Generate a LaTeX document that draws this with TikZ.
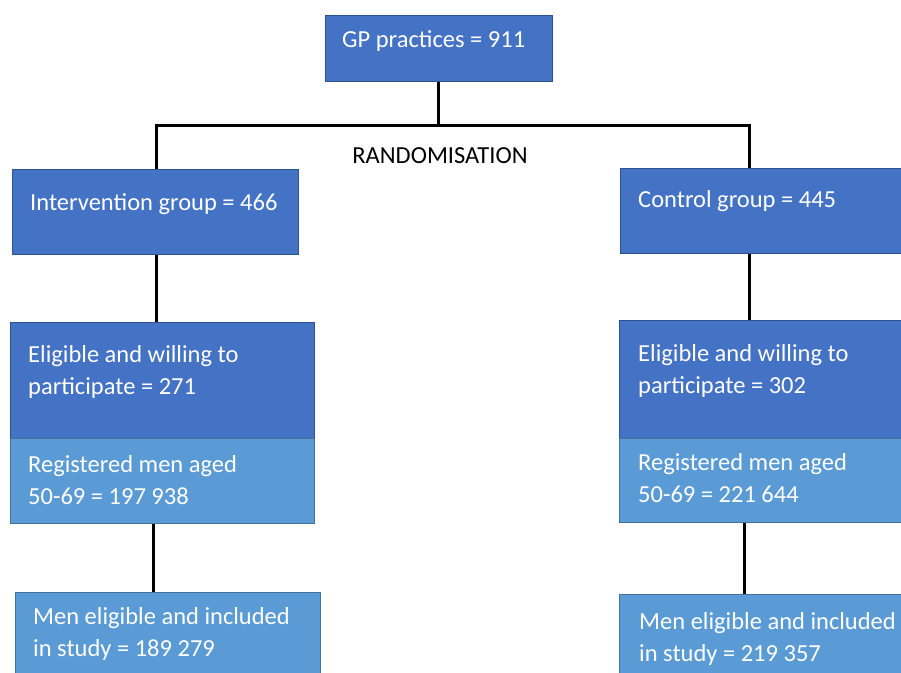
\documentclass[tikz,border=0pt]{standalone}
\usepackage{fontspec}
\setmainfont{Carlito}
\definecolor{darkbox}{HTML}{4472C4}
\definecolor{lightbox}{HTML}{5B9BD5}
\definecolor{darkline}{HTML}{2F528F}
\definecolor{lightline}{HTML}{41719C}
\tikzset{
  dbox/.style={draw=darkline, fill=darkbox, line width=1.2pt, anchor=north west, inner sep=0pt},
  lbox/.style={draw=lightline, fill=lightbox, line width=1.2pt, anchor=north west, inner sep=0pt},
  wtext/.style={text=white, anchor=base west, inner sep=0pt, align=left, font=\fontsize{24.5}{32}\selectfont},
  conn/.style={draw=black, line width=3pt},
}
\begin{document}
\begin{tikzpicture}[x=1pt, y=-1pt]
\useasboundingbox (0,0) rectangle (901,672);
\clip (0,0) rectangle (901,672);
\fill[white] (0,0) rectangle (901,672);
% boxes
\node[dbox, minimum width=227pt, minimum height=66pt] (gp) at (325,15) {};
\node[dbox, minimum width=286pt, minimum height=85pt] (int) at (12,169) {};
\node[dbox, minimum width=300pt, minimum height=85pt] (ctl) at (620,168) {};
\node[dbox, minimum width=304pt, minimum height=116pt] (el1) at (10,322) {};
\node[lbox, minimum width=304pt, minimum height=85pt] (rg1) at (10,438) {};
\node[lbox, minimum width=305pt, minimum height=100pt] (mn1) at (15,592) {};
\node[dbox, minimum width=300pt, minimum height=118pt] (el2) at (619,320) {};
\node[lbox, minimum width=300pt, minimum height=84pt] (rg2) at (619,438) {};
\node[lbox, minimum width=300pt, minimum height=100pt] (mn2) at (619,594) {};
% connector coordinates
\coordinate (bar) at (438,125);
\coordinate (lx) at (156,0);
\coordinate (rx) at (749,0);
\coordinate (lx2) at (153,0);
\coordinate (rx2) at (744,0);
\draw[conn] (bar |- gp.south) -- (bar);
\draw[conn] (lx |- int.north) |- (bar) -| (rx |- ctl.north);
\draw[conn] (lx |- int.south) -- (lx |- el1.north);
\draw[conn] (lx2 |- rg1.south) -- (lx2 |- mn1.north);
\draw[conn] (rx |- ctl.south) -- (rx |- el2.north);
\draw[conn] (rx2 |- rg2.south) -- (rx2 |- mn2.north);
% texts
\node[anchor=base, inner sep=0pt, font=\fontsize{24.5}{28}\selectfont] (rand) at (440,163) {RANDOMISATION};
\node[wtext] (tgp) at (342,47) {GP practices = 911};
\node[wtext] (tint) at (30,210) {Intervention group = 466};
\node[wtext] (tctl) at (638,207) {Control group = 445};
\node[wtext] (tel1) at (28,394) {Eligible and willing to\\participate = 271};
\node[wtext] (trg1) at (28,504) {Registered men aged\\50-69 = 197 938};
\node[wtext] (tmn1) at (33,656) {Men eligible and included\\in study = 189 279};
\node[wtext] (tel2) at (638,393) {Eligible and willing to\\participate = 302};
\node[wtext] (trg2) at (638,502) {Registered men aged\\50-69 = 221 644};
\node[wtext] (tmn2) at (639,661) {Men eligible and included\\in study = 219 357};
\end{tikzpicture}
\end{document}
